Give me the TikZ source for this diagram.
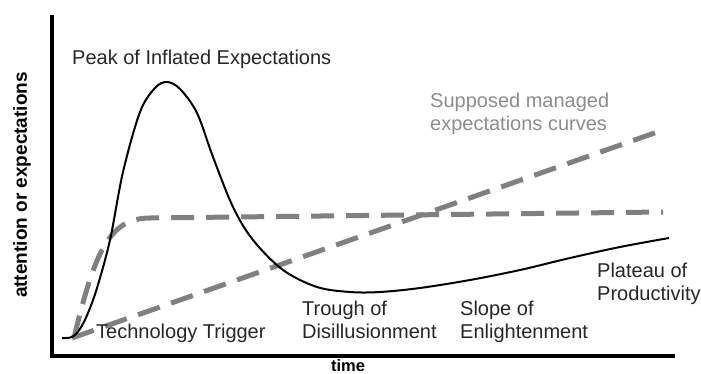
\documentclass[tikz,border=0pt]{standalone}
\usepackage{fontspec}
\setmainfont{Liberation Sans}
\begin{document}
\begin{tikzpicture}[x=1pt,y=-1pt,
  lbl/.style={inner sep=0pt, text=black!85, font=\fontsize{20}{23}\selectfont, align=left},
  axlbl/.style={inner sep=0pt, text=black, font=\fontsize{19}{22}\selectfont\bfseries},
  axisline/.style={line width=3.5pt, black},
  hype/.style={line width=2pt, black},
  managed/.style={line width=5pt, black!50, dash pattern=on 23pt off 12pt}]
\useasboundingbox (0,0) rectangle (701,374);
% axes
\coordinate (ytop) at (52,15);
\coordinate (origin) at (52,356);
\coordinate (xend) at (675,356);
\draw[axisline] (ytop) -- (origin) -- (xend);
% managed expectations curves
\coordinate (m1s) at (74,338);
\coordinate (m1k) at (150,218);
\coordinate (m1e) at (663,212);
\draw[managed] (m1s) .. controls (95,250) and (110,218) .. (m1k) -- (m1e);
\coordinate (m2s) at (72,338);
\coordinate (m2e) at (663,130);
\draw[managed] (m2s) -- (m2e);
% hype curve
\draw[hype] plot[smooth, tension=0.55] coordinates {
  (62,338) (72,337) (80,329) (88,313) (97,288) (110,240) (123,172) (140,112)
  (155,88) (167,82) (180,89) (197,113) (213,157) (233,207) (253,240) (283,270)
  (317,287) (350,292) (380,292) (420,288) (470,280) (520,270) (570,258)
  (620,247) (669,238)};
% labels
\node[lbl, anchor=base west] (peak) at (72,65) {Peak of Inflated Expectations};
\node[lbl, anchor=base west, text=black!45] (supp) at (430,131) {Supposed managed\\expectations curves};
\node[lbl, anchor=base west] (trig) at (96,338) {Technology Trigger};
\node[lbl, anchor=base west] (trough) at (302,338) {Trough of\\Disillusionment};
\node[lbl, anchor=base west] (slope) at (460,338) {Slope of\\Enlightenment};
\node[lbl, anchor=base west] (plat) at (597,300) {Plateau of\\Productivity};
\node[axlbl, anchor=base, font=\fontsize{16.5}{18}\selectfont\bfseries] (time) at (348,371) {time};
\node[axlbl, rotate=90] (ylab) at (22,185) {attention or expectations};
\end{tikzpicture}
\end{document}
